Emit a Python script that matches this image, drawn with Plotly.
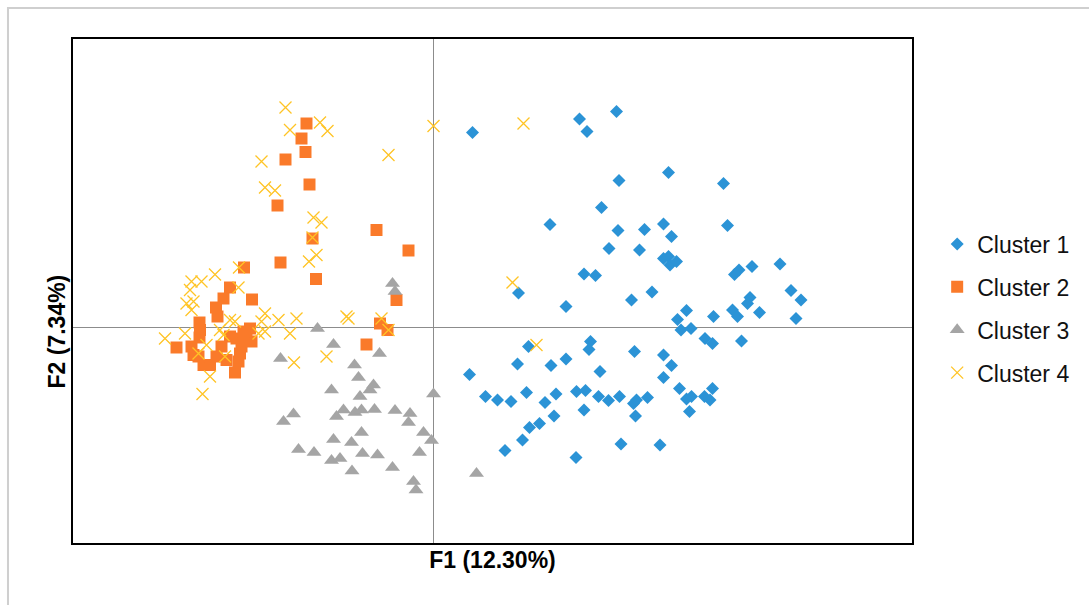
import plotly.graph_objects as go

# ---- data (F1, F2 scores) ----
c1_f1 = [0.79, 2.93, 3.08, 3.67, 3.72, 4.71, 5.81, 3.37, 2.34, 3.70, 4.23, 4.61, 4.77, 5.89, 3.52, 4.13,
         4.61, 4.71, 4.74, 4.87, 6.03, 6.12, 6.38, 6.94, 3.02, 3.25, 1.71, 2.66, 3.97, 4.38, 7.16, 7.36,
         6.34, 6.29, 6.53, 5.07, 4.89, 5.61, 5.99, 6.09, 7.26, 4.96, 5.16, 5.44, 5.59, 6.17, 1.91, 3.15,
         3.12, 4.03, 4.61, 4.77, 1.69, 2.36, 2.66, 0.73, 3.34, 4.61, 4.93, 5.59, 1.05, 1.29, 1.56, 1.87,
         2.24, 2.46, 2.87, 3.05, 3.31, 3.51, 3.73, 4.01, 4.07, 4.29, 5.07, 5.17, 5.43, 5.54, 3.02, 2.42,
         4.05, 5.13, 1.93, 2.13, 1.79, 1.44, 3.76, 4.54, 2.86]
c1_f2 = [3.89, 4.16, 3.91, 4.31, 2.93, 3.09, 2.87, 2.39, 2.05, 1.93, 1.95, 2.06, 1.81, 2.03, 1.57, 1.54,
         1.37, 1.41, 1.24, 1.31, 1.05, 1.14, 1.21, 1.26, 1.06, 1.03, 0.68, 0.41, 0.54, 0.70, 0.73, 0.54,
         0.59, 0.47, 0.29, 0.33, 0.15, 0.21, 0.34, 0.21, 0.17, -0.06, -0.03, -0.23, -0.33, -0.28, -0.39, -0.29,
         -0.45, -0.49, -0.56, -0.77, -0.74, -0.77, -0.64, -0.95, -0.89, -1.01, -1.23, -1.23, -1.39, -1.46, -1.49, -1.31,
         -1.51, -1.34, -1.29, -1.27, -1.39, -1.47, -1.39, -1.53, -1.46, -1.41, -1.44, -1.39, -1.39, -1.46, -1.66, -1.78,
         -1.78, -1.69, -2.01, -1.93, -2.26, -2.47, -2.34, -2.36, -2.61]

c2_f1 = [-2.53, -2.63, -2.55, -2.95, -2.47, -3.11, -1.13, -2.41, -0.49, -3.05, -3.78, -2.34, -4.06, -4.19, -3.62,
         -4.34, -4.31, -0.73, -4.67, -4.66, -4.67, -3.66, -1.06, -0.91, -5.13, -4.83, -4.79, -1.33, -4.46, -4.59,
         -4.23, -4.13, -3.93, -3.83, -3.73, -3.63, -3.86, -3.89, -3.96, -4.33, -4.69, -4.06, -3.79]
c2_f2 = [4.07, 3.77, 3.50, 3.35, 2.85, 2.43, 1.94, 1.77, 1.53, 1.29, 1.19, 0.96, 0.79, 0.57, 0.55,
         0.39, 0.21, 0.54, 0.09, -0.06, -0.21, -0.03, 0.07, -0.06, -0.41, -0.39, -0.56, -0.35, -0.76, -0.76,
         -0.39, -0.66, -0.23, -0.39, -0.26, -0.29, -0.53, -0.69, -0.91, -0.59, -0.59, -0.19, -0.09]

c3_f1 = [-0.81, -0.76, -2.31, -1.99, -3.05, -1.07, -1.57, -1.49, -2.03, -1.46, -1.26, -1.19, -1.79, -1.93,
         -1.56, -1.43, -1.17, -0.76, -0.46, -0.49, 0.01, -2.99, -2.79, -1.43, -1.99, -1.63, -0.19, -0.03,
         -2.69, -2.38, -2.03, -1.86, -1.41, -1.11, -0.27, -1.62, -0.81, -0.39, -0.34, 0.87]
c3_f2 = [0.87, 0.71, -0.03, -0.35, -0.63, -0.53, -0.76, -1.01, -1.26, -1.39, -1.26, -1.16, -1.66, -1.79,
         -1.71, -1.66, -1.65, -1.67, -1.73, -1.91, -1.34, -1.89, -1.74, -2.11, -2.25, -2.31, -2.11, -2.27,
         -2.45, -2.51, -2.67, -2.63, -2.53, -2.56, -2.51, -2.88, -2.81, -3.09, -3.26, -2.93]

c4_f1 = [-2.95, -2.86, -2.26, -2.11, 0.01, 1.81, -0.89, -3.43, -3.36, -3.16, -2.39, -2.23, -2.41, -2.33,
         -2.48, 1.59, -3.88, -4.36, -4.63, -4.83, -3.89, -4.86, -4.93, -4.79, -4.83, -4.06, -3.96, -3.36,
         -3.43, -3.09, -2.73, -1.73, -1.69, -1.03, -0.89, -2.86, -3.36, -3.49, -4.26, -4.19, -5.36, -4.96,
         -4.53, -4.69, -4.16, -2.13, -2.78, -4.46, -4.61, 2.07]
c4_f2 = [4.39, 3.94, 4.09, 3.92, 4.02, 4.07, 3.44, 3.31, 2.79, 2.73, 2.19, 2.09, 1.79, 1.44,
         1.31, 0.89, 1.19, 1.05, 0.91, 0.91, 0.79, 0.74, 0.47, 0.51, 0.34, 0.14, 0.11, 0.27,
         0.11, 0.14, 0.17, 0.21, 0.17, 0.17, -0.06, -0.13, -0.09, -0.13, -0.06, -0.16, -0.23, -0.13,
         -0.36, -0.53, -0.59, -0.59, -0.71, -0.99, -1.34, -0.36]

series_names = ["Cluster 1", "Cluster 2", "Cluster 3", "Cluster 4"]
x_title = "F1 (12.30%)"
y_title = "F2 (7.34%)"

FONT = "Liberation Sans, Arial, sans-serif"

fig = go.Figure()
fig.add_trace(go.Scatter(x=c1_f1, y=c1_f2, mode="markers", name=series_names[0], legendgroup="g1",
                         marker=dict(symbol="diamond", size=10, color="#2B93D6", line=dict(width=0))))
fig.add_trace(go.Scatter(x=c2_f1, y=c2_f2, mode="markers", name=series_names[1], legendgroup="g2",
                         marker=dict(symbol="square", size=12, color="#FA7A2A", line=dict(width=0))))
fig.add_trace(go.Scatter(x=c3_f1, y=c3_f2, mode="markers", name=series_names[2], legendgroup="g3",
                         marker=dict(symbol="triangle-up", size=13, color="#A5A5A5", line=dict(width=0))))
fig.add_trace(go.Scatter(x=c4_f1, y=c4_f2, mode="markers", name=series_names[3], legendgroup="g4",
                         marker=dict(symbol="x-thin-open", size=12, color="#FFC425",
                                     line=dict(width=1.3, color="#FFC425"))))

axis_common = dict(showgrid=False, showticklabels=False, ticks="", zeroline=True,
                   zerolinecolor="#8C8C8C", zerolinewidth=1, showline=True, linecolor="black",
                   linewidth=2, mirror=True)

fig.update_layout(
    width=1089, height=605,
    margin=dict(l=73, r=177, t=39, b=62),
    paper_bgcolor="white", plot_bgcolor="white",
    font=dict(family=FONT, color="black"),
    xaxis=dict(range=[-7.2, 9.58], title=dict(text="<b>" + x_title + "</b>", font=dict(size=23), standoff=8),
               **axis_common),
    yaxis=dict(range=[-4.32, 5.76], **axis_common),
    legend=dict(x=1.03, xanchor="left", y=0.636, yanchor="top", font=dict(size=23, color="#111111"),
                tracegroupgap=10, itemwidth=30, bgcolor="rgba(0,0,0,0)"),
    showlegend=True,
)

fig.add_annotation(text="<b>" + y_title + "</b>", textangle=-90, xref="paper", yref="paper",
                   x=-0.001, xanchor="right", y=0.42, yanchor="middle", showarrow=False,
                   font=dict(size=23, family=FONT, color="black"))

# light outer frame of the picture
fig.add_shape(type="rect", xref="paper", yref="paper", x0=-0.0775, x1=1.25, y0=-0.2, y1=1.0615,
              line=dict(color="#CFCFCF", width=2), fillcolor="rgba(0,0,0,0)", layer="below")

fig.write_html("out.html")
